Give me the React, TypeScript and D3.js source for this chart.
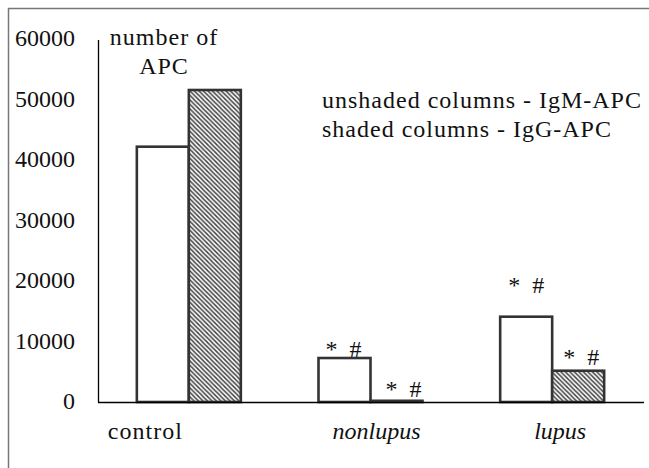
import React from "react";
import * as d3 from "d3";

const categories = ["control", "nonlupus", "lupus"];
const categoryItalic = [false, true, true];
const seriesNames = ["IgM", "IgG"];
const igmValues = [42200, 7270, 14100];
const iggValues = [51570, 200, 5170];
const igmMarks = ["", "*  #", "*  #"];
const iggMarks = ["", "*  #", "*  #"];
const yTicks = [0, 10000, 20000, 30000, 40000, 50000, 60000];
const yTitle = ["number of", "APC"];
const legendLines = ["unshaded columns - IgM-APC", "shaded columns - IgG-APC"];

// layout (not data)
const W = 649;
const H = 468;
const plot = { left: 98, right: 643, top: 39, bottom: 402 };
const igmMarkOffset = [[0, 0], [7, -1], [8, -24]];
const iggMarkOffset = [[0, 0], [15, -4], [11, -6]];
const catLabelDx = [-43.5, 6, 8];

export default function App() {
  const x = d3.scaleBand().domain(categories).range([plot.left, plot.right]).padding(0);
  const xi = d3
    .scaleBand()
    .domain(seriesNames)
    .range([0, x.bandwidth()])
    .paddingInner(0)
    .paddingOuter(0.747);
  const y = d3.scaleLinear().domain([0, 60000]).range([plot.bottom, plot.top]);

  const bars = [];
  categories.forEach((c, i) => {
    [igmValues, iggValues].forEach((vals, s) => {
      const bx = x(c) + xi(seriesNames[s]);
      const by = y(vals[i]);
      bars.push({
        key: c + s,
        x: bx,
        y: by,
        w: xi.bandwidth(),
        h: plot.bottom - by,
        fill: s === 0 ? "#fff" : "url(#hatch)",
        mark: s === 0 ? igmMarks[i] : iggMarks[i],
        off: s === 0 ? igmMarkOffset[i] : iggMarkOffset[i],
      });
    });
  });

  const st = (extra = {}) => ({ fontFamily: "Liberation Serif", fontSize: 24, ...extra });

  return (
    <svg width={W} height={H} style={{ position: "absolute", left: 0, top: 0, display: "block", background: "#fff" }}>
      <defs>
        <pattern id="hatch" patternUnits="userSpaceOnUse" width={4.5} height={4.5}>
          <rect width={4.5} height={4.5} fill="#fff" />
          <path d="M-1,-1 L5.5,5.5 M-1,3.5 L1,5.5 M3.5,-1 L5.5,1" stroke="#444" strokeWidth={1.5} />
        </pattern>
      </defs>
      {/* frame */}
      <line x1={8} y1={8.5} x2={W} y2={8.5} stroke="#777" strokeWidth={1.5} />
      <line x1={8.5} y1={8} x2={8.5} y2={H} stroke="#777" strokeWidth={1.5} />

      {/* y axis line */}
      <line x1={plot.left + 0.5} y1={40} x2={plot.left + 0.5} y2={plot.bottom} stroke="#000" strokeWidth={1.3} />

      {/* y tick labels */}
      {yTicks.map((t) => (
        <text key={t} x={75} y={y(t) + 7} textAnchor="end" fill="#111" style={st()}>
          {t}
        </text>
      ))}

      {/* bars */}
      {bars.map((b) => (
        <rect key={b.key} x={b.x} y={b.y} width={b.w} height={Math.max(b.h, 0.5)} fill={b.fill} stroke="#333" strokeWidth={2.6} />
      ))}

      {/* x axis line */}
      <line x1={plot.left} y1={plot.bottom + 0.5} x2={plot.right + 1} y2={plot.bottom + 0.5} stroke="#000" strokeWidth={1.3} />

      {/* significance marks */}
      {bars
        .filter((b) => b.mark)
        .map((b) => (
          <text key={"m" + b.key} x={b.x + b.off[0]} y={b.y + b.off[1]} fill="#111" style={st({ whiteSpace: "pre" })}>
            {b.mark}
          </text>
        ))}

      {/* category labels */}
      {categories.map((c, i) => (
        <text
          key={c}
          x={x(c) + x.bandwidth() / 2 + catLabelDx[i]}
          y={439}
          textAnchor="middle"
          fill="#111"
          style={st({ fontStyle: categoryItalic[i] ? "italic" : "normal", letterSpacing: categoryItalic[i] ? 0 : 1 })}
        >
          {c}
        </text>
      ))}

      {/* y title */}
      {yTitle.map((t, i) => (
        <text key={t} x={164} y={45 + i * 29} textAnchor="middle" fill="#111" style={st({ letterSpacing: 1 })}>
          {t}
        </text>
      ))}

      {/* legend text */}
      {legendLines.map((t, i) => (
        <text key={t} x={322} y={108 + i * 29} fill="#111" style={st({ letterSpacing: 1 })}>
          {t}
        </text>
      ))}
    </svg>
  );
}
